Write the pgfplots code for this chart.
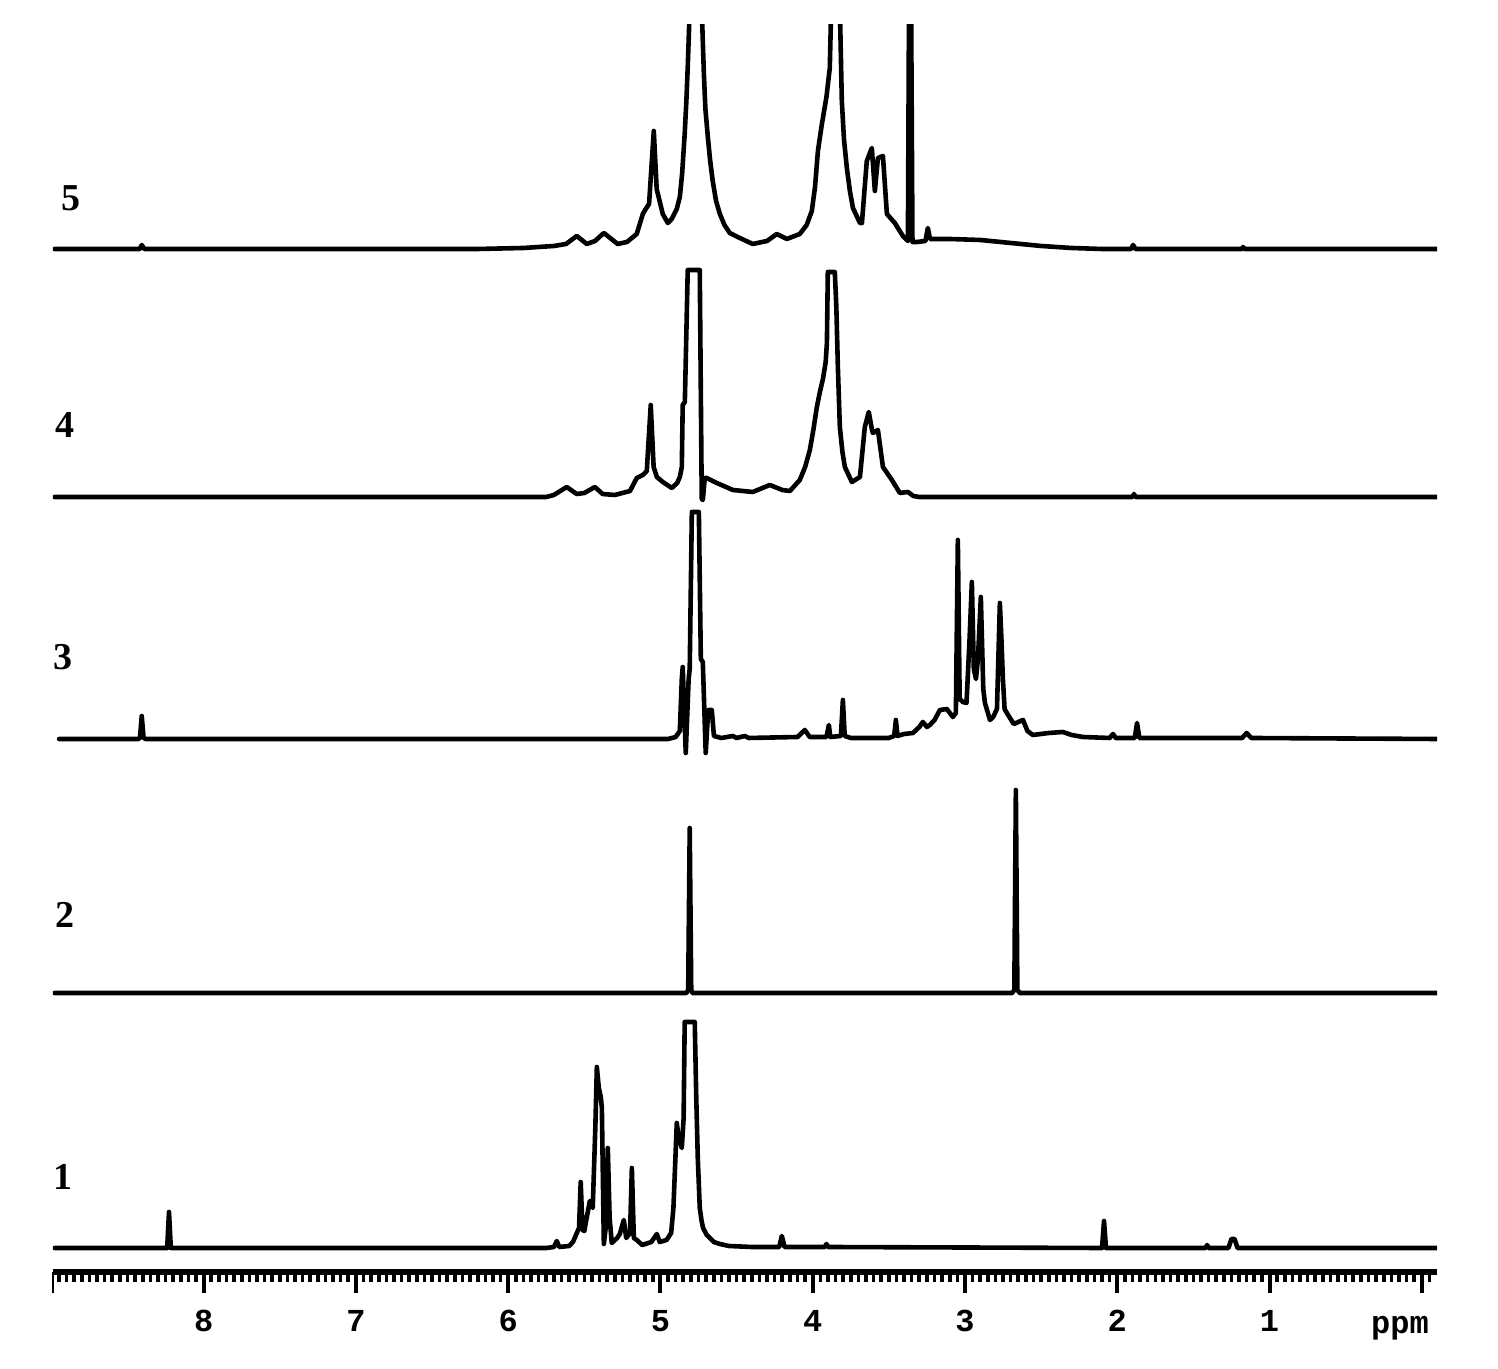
\documentclass[border=0pt]{standalone}
\usepackage{fontspec}
\setmainfont{Liberation Serif}
\setmonofont{Liberation Mono}
\usepackage{pgfplots}
\usepackage{pgfplotstable}
\pgfplotsset{compat=1.18}

% spectrum 1 (bottom)
\pgfplotstableread{
x h
8.98 0
8.240 0
8.228 36
8.216 0
5.75 0
5.70 1
5.681 7
5.665 1
5.60 2
5.575 6
5.535 20
5.524 66
5.512 18
5.500 17
5.485 30
5.464 47
5.445 40
5.428 120
5.418 181
5.405 160
5.392 151
5.385 140
5.372 4
5.360 20
5.346 100
5.334 30
5.320 5
5.285 10
5.267 14
5.241 28
5.225 10
5.200 15
5.188 80
5.175 10
5.156 8
5.120 3
5.060 6
5.024 14
5.005 6
4.960 8
4.930 15
4.915 40
4.893 125
4.880 110
4.860 100
4.848 130
4.841 226
4.775 226
4.765 150
4.755 90
4.742 40
4.730 27
4.720 20
4.696 13
4.650 6
4.610 4
4.550 2
4.400 1
4.220 1
4.203 12
4.185 1
3.920 1
3.910 4
3.900 1
2.100 0
2.087 27
2.074 0
1.420 0
1.410 3
1.400 0
1.270 0
1.250 9
1.230 9
1.210 0
-0.10 0
}\specA

% spectrum 2
\pgfplotstableread{
x h
8.98 0
4.830 0
4.818 3
4.808 165
4.798 3
4.790 0
2.690 0
2.676 3
2.666 203
2.656 3
2.640 0
-0.10 0
}\specB

% spectrum 3
\pgfplotstableread{
x h
8.95 0
8.430 0
8.419 1
8.407 23
8.395 1
8.380 0
4.950 0
4.900 2
4.873 8
4.860 60
4.854 72
4.834 -14
4.815 60
4.808 70
4.794 227
4.748 227
4.735 80
4.722 77
4.703 -14
4.690 20
4.683 29
4.663 29
4.649 3
4.600 1
4.525 3
4.500 1
4.446 3
4.420 1
4.100 2
4.052 9
4.020 2
3.910 2
3.894 14
3.885 2
3.815 3
3.802 39
3.790 3
3.750 1
3.500 1
3.465 3
3.454 19
3.443 3
3.400 5
3.342 6
3.300 12
3.277 17
3.250 12
3.231 14
3.200 19
3.165 29
3.119 30
3.080 22
3.060 26
3.047 199
3.035 40
3.014 37
2.990 36
2.970 100
2.955 157
2.942 70
2.928 60
2.915 80
2.896 142
2.880 50
2.869 36
2.836 19
2.815 22
2.790 30
2.771 136
2.760 97
2.751 60
2.740 30
2.725 26
2.680 15
2.619 19
2.590 8
2.554 4
2.450 6
2.357 7
2.300 4
2.225 2
2.050 1
2.028 5
2.010 1
1.885 1
1.870 16
1.855 1
1.180 1
1.150 6
1.120 1
-0.10 0
}\specC

% spectrum 4
\pgfplotstableread{
x h
8.98 0
5.750 0
5.700 2
5.616 10
5.550 3
5.500 4
5.431 10
5.380 3
5.300 2
5.200 6
5.156 19
5.116 22
5.090 26
5.064 92
5.045 30
5.024 20
4.985 15
4.926 9
4.890 14
4.873 20
4.860 30
4.854 92
4.840 95
4.821 227
4.742 227
4.729 -2
4.722 -3
4.709 19
4.696 19
4.630 14
4.525 7
4.394 5
4.282 12
4.200 7
4.150 6
4.085 17
4.050 30
4.019 47
3.995 68
3.973 90
3.953 105
3.933 118
3.915 135
3.907 154
3.901 225
3.855 225
3.845 190
3.835 130
3.822 70
3.805 45
3.789 30
3.743 15
3.690 20
3.658 70
3.632 85
3.612 68
3.605 64
3.572 67
3.539 30
3.480 17
3.428 4
3.375 5
3.340 1
3.300 0
1.900 0
1.890 3
1.880 0
-0.10 0
}\specD

% spectrum 5 (top)
\pgfplotstableread{
x h
8.98 0
8.420 0
8.407 4
8.390 0
6.200 0
5.900 1
5.800 2
5.700 3
5.620 5
5.550 13
5.484 5
5.430 8
5.372 16
5.281 5
5.220 7
5.156 15
5.116 35
5.097 40
5.075 45
5.044 118
5.025 60
4.985 35
4.952 26
4.926 30
4.893 40
4.873 52
4.858 75
4.841 115
4.830 148
4.821 182
4.808 240
4.790 320
4.745 320
4.729 240
4.715 175
4.705 140
4.689 112
4.675 90
4.657 68
4.635 48
4.610 35
4.580 24
4.545 16
4.479 11
4.394 5
4.300 8
4.236 15
4.170 10
4.085 15
4.040 24
4.006 38
3.985 62
3.966 98
3.940 125
3.933 131
3.910 152
3.888 181
3.870 300
3.830 300
3.809 148
3.795 110
3.776 81
3.756 58
3.736 41
3.690 26
3.677 26
3.645 88
3.612 101
3.592 58
3.572 91
3.539 93
3.513 35
3.461 26
3.408 13
3.375 8
3.366 300
3.356 300
3.345 7
3.316 7
3.260 8
3.244 21
3.230 10
3.200 10
3.100 10
2.900 9
2.700 6
2.500 3
2.300 1
2.100 0
1.910 0
1.896 4
1.880 0
1.180 0
1.174 2
1.165 0
-0.10 0
}\specE

\begin{document}
\begin{tikzpicture}
\path[use as bounding box] (-26.5pt,-48.5pt) rectangle (722.5pt,636pt);
\begin{axis}[
  at={(0,0)}, anchor=south west,
  scale only axis, width=692pt, height=623.5pt,
  xmin=-0.10, xmax=8.99, ymin=0, ymax=1247,
  x dir=reverse,
  axis x line*=bottom, axis y line=none,
  x axis line style={line width=2.8pt, -},
  xtick={0,1,2,3,4,5,6,7,8},
  xticklabels={{},1,2,3,4,5,6,7,8},
  minor xtick={-0.05,0.05,0.10,...,8.99},
  tick align=outside,
  major tick length=10.5pt, minor tick length=5pt,
  major tick style={line width=2pt, black},
  minor tick style={line width=1.8pt, black},
  extra x ticks={8.99},
  extra x tick labels={},
  extra x tick style={major tick style={line width=1pt}},
  xticklabel style={font=\ttfamily\bfseries\fontsize{16}{18}\selectfont, anchor=base, yshift=-19.5pt},
  ytick=\empty,
  clip mode=individual,
  spec/.style={black, line width=2.3pt, line join=round, line cap=round, mark=none},
]
\addplot[spec] table[x=x, y expr=\thisrow{h}+24] {\specA};
\addplot[spec] table[x=x, y expr=\thisrow{h}+279] {\specB};
\addplot[spec] table[x=x, y expr=\thisrow{h}+533] {\specC};
\addplot[spec] table[x=x, y expr=\thisrow{h}+775] {\specD};
\addplot[spec] table[x=x, y expr=\thisrow{h}+1023] {\specE};
\node[font=\bfseries\fontsize{19}{19}\selectfont] at (axis cs:8.874,1074) {5};
\node[font=\bfseries\fontsize{19}{19}\selectfont] at (axis cs:8.914,847) {4};
\node[font=\bfseries\fontsize{19}{19}\selectfont] at (axis cs:8.927,615) {3};
\node[font=\bfseries\fontsize{19}{19}\selectfont] at (axis cs:8.914,357) {2};
\node[font=\bfseries\fontsize{19}{19}\selectfont] at (axis cs:8.927,95) {1};
\node[font=\ttfamily\bfseries\fontsize{16}{18}\selectfont, anchor=base] at (axis cs:0.143,0) [yshift=-31pt] {ppm};
\end{axis}
\end{tikzpicture}
\end{document}
